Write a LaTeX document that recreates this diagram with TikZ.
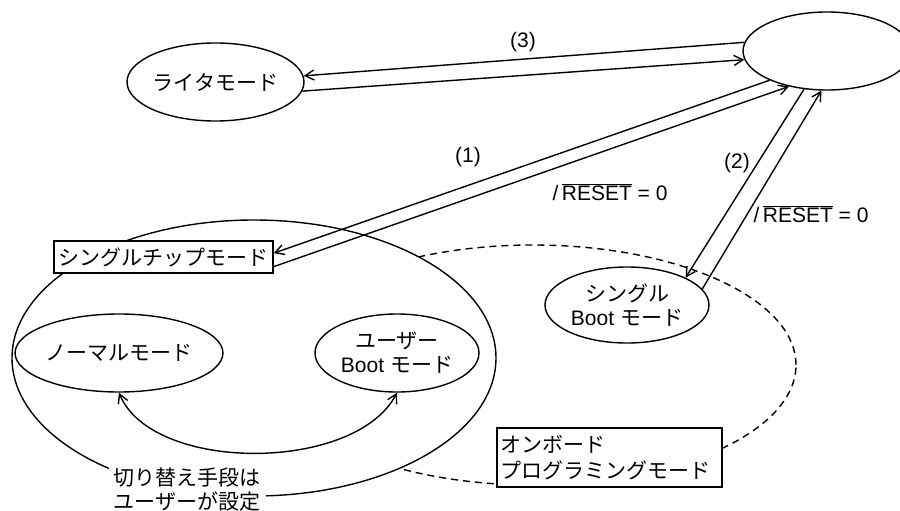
\documentclass[tikz,border=0pt]{standalone}
\usepackage{fontspec}
\setmainfont{Liberation Sans}
\newfontfamily\jpfont{Noto Sans CJK JP}
\usetikzlibrary{shapes.geometric,arrows.meta}
\begin{document}
\begin{tikzpicture}[x=1pt,y=-1pt,line width=1.4pt,font=\fontsize{21}{24}\selectfont,
  mode/.style={ellipse,draw,inner sep=0pt,minimum width=164pt,minimum height=78pt,align=center},
  tag/.style={rectangle,draw,fill=white,inner sep=0pt,font=\fontsize{21}{26}\selectfont\jpfont},
  tip/.style={-{Straight Barb[length=9pt,width=10pt]}}]
\clip (0,0) rectangle (900,511);
\node[mode,dash pattern=on 7pt off 5pt,minimum width=526pt,minimum height=240pt] (onboard) at (533,365) {};
\node[mode,fill=white,minimum width=484pt,minimum height=276pt] (chip) at (254,358) {};
\node[mode,minimum width=163pt] (writer) at (215.5,82) {\jpfont ライタモード};
\node[mode,minimum width=168pt] (hub) at (827,51) {};
\node[mode] (normal) at (119,353) {\jpfont ノーマルモード};
\node[mode] (userboot) at (397,353) {{\jpfont ユーザー}\\Boot {\jpfont モード}};
\node[mode,minimum height=76pt] (sboot) at (627,305) {{\jpfont シングル}\\Boot {\jpfont モード}};
\node[tag,minimum width=219pt,minimum height=32pt] (chiptag) at (163.5,257) {シングルチップモード};
\node[tag,text width=219pt,inner xsep=3pt,minimum height=59pt,align=left] (onboardtag) at (609.5,457.5) {オンボード\\プログラミングモード};
\draw[tip] (hub.174.6) -- (writer.4.2);
\draw[tip] (writer.-6.3) -- (hub.186);
\draw[tip] (hub.207.8) -- (chiptag.2.6);
\draw[tip] (chiptag.-5.7) -- (hub.223.5);
\draw[tip] (hub.239.7) -- (sboot.25.8);
\draw[tip] (sboot.12.4) -- (hub.262.5);
\draw[{Straight Barb[length=9pt,width=10pt]}-{Straight Barb[length=9pt,width=10pt]}]
  (normal.south) .. controls (152,473) and (355,473) .. (userboot.south);
\node[fill=white,inner xsep=5pt,inner ysep=2pt,align=center,font=\fontsize{21}{24}\selectfont\jpfont] (how) at (187,490) {切り替え手段は\\ユーザーが設定};
\node (l3) at (523,42) {(3)};
\node (l1) at (468,157) {(1)};
\node (l2) at (737,163) {(2)};
\node (r1) at (610,192) {/\,$\overline{\mbox{RESET}}$ = 0};
\node (r2) at (811,214) {/\,$\overline{\mbox{RESET}}$ = 0};
\end{tikzpicture}
\end{document}
